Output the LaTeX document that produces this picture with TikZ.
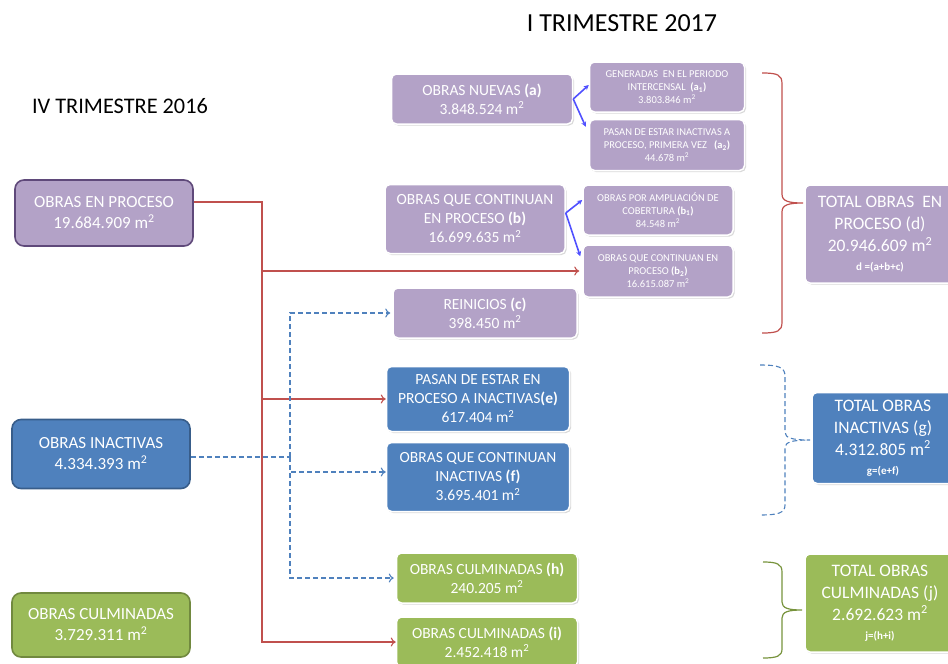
\documentclass[tikz,border=0pt]{standalone}
\usepackage{fontspec}
\setmainfont{Carlito}
\usetikzlibrary{arrows.meta,shadows}

\definecolor{lila}{HTML}{B3A2C7}
\definecolor{lilaborde}{HTML}{5F497A}
\definecolor{azul}{HTML}{4F81BD}
\definecolor{azulborde}{HTML}{385D8A}
\definecolor{verde}{HTML}{9BBB59}
\definecolor{verdeborde}{HTML}{71893F}
\definecolor{rojo}{HTML}{C0504D}
\definecolor{flecha}{HTML}{5050FF}
\definecolor{llave}{HTML}{77933C}
\newcommand{\formulatext}{\fontsize{11}{13}\selectfont\bfseries}

\begin{document}
\begin{tikzpicture}[x=1pt,y=-1pt,
  every node/.style={text=white,align=center,inner sep=1pt},
  viejo/.style={rounded corners=9pt,line width=1.6pt,minimum width=178pt,font=\fontsize{17}{21}\selectfont},
  nuevo/.style={rounded corners=5pt,draw=white,line width=1.5pt,
    drop shadow={opacity=0.3,shadow xshift=1.5pt,shadow yshift=-1.5pt}},
  grande/.style={nuevo,font=\fontsize{15.5}{19}\selectfont},
  chica/.style={nuevo,font=\fontsize{10.5}{13}\selectfont},
  total/.style={nuevo,minimum width=150pt,minimum height=98pt,font=\fontsize{17.5}{22}\selectfont},
  linearoja/.style={rojo,line width=1.1pt},
  lineaazul/.style={azul,line width=1.1pt,dash pattern=on 5pt off 3pt},
  flechaazul/.style={flecha,line width=1.6pt,-{Stealth[length=5pt,width=5pt]}},
  punta/.style={-{To[length=5pt,width=9pt]}}]
\useasboundingbox (0,0) rectangle (948,664);

% titulos
\node[text=black,font=\fontsize{26}{30}\selectfont] (tit17) at (622,23) {I TRIMESTRE 2017};
\node[text=black,font=\fontsize{22.3}{26}\selectfont] (tit16) at (120,106) {IV TRIMESTRE 2016};

% trimestre anterior
\node[viejo,fill=lila,draw=lilaborde,minimum height=66pt] (proceso16) at (104,213)
  {OBRAS EN PROCESO\\19.684.909 m\textsuperscript{2}};
\node[viejo,fill=azul,draw=azulborde,minimum height=69pt] (inact16) at (101,454)
  {OBRAS INACTIVAS\\4.334.393 m\textsuperscript{2}};
\node[viejo,fill=verde,draw=verdeborde,minimum height=64pt] (culm16) at (101,625)
  {OBRAS CULMINADAS\\3.729.311 m\textsuperscript{2}};

% en proceso
\node[grande,fill=lila,minimum width=181pt,minimum height=50pt] (nuevas) at (482,99)
  {OBRAS NUEVAS \textbf{(a)}\\3.848.524 m\textsuperscript{2}};
\node[chica,fill=lila,minimum width=155pt,minimum height=50pt] (a1) at (667,87)
  {GENERADAS\ \ EN EL PERIODO\\INTERCENSAL\ \ \textbf{(a\textsubscript{1})}\\3.803.846 m\textsuperscript{2}};
\node[chica,fill=lila,minimum width=155pt,minimum height=51pt] (a2) at (667,145)
  {PASAN DE ESTAR INACTIVAS A\\PROCESO, PRIMERA VEZ\ \ \ \textbf{(a\textsubscript{2})}\\44.678 m\textsuperscript{2}};
\node[grande,fill=lila,minimum width=180pt,minimum height=69pt] (contin) at (475,219)
  {OBRAS QUE CONTINUAN\\EN PROCESO \textbf{(b)}\\16.699.635 m\textsuperscript{2}};
\node[chica,fill=lila,minimum width=150pt,minimum height=50pt] (b1) at (658,210)
  {OBRAS POR AMPLIACIÓN DE\\COBERTURA \textbf{(b\textsubscript{1})}\\84.548 m\textsuperscript{2}};
\node[chica,fill=lila,minimum width=150pt,minimum height=52pt] (b2) at (658,271)
  {OBRAS QUE CONTINUAN EN\\PROCESO \textbf{(b\textsubscript{2})}\\16.615.087 m\textsuperscript{2}};
\node[grande,fill=lila,minimum width=184pt,minimum height=50pt] (reinic) at (485,313)
  {REINICIOS \textbf{(c)}\\398.450 m\textsuperscript{2}};

% inactivas
\node[grande,fill=azul,minimum width=183pt,minimum height=65pt] (pasan) at (478,399)
  {PASAN DE ESTAR EN\\PROCESO A INACTIVAS\textbf{(e)}\\617.404 m\textsuperscript{2}};
\node[grande,fill=azul,minimum width=183pt,minimum height=69pt] (sigin) at (478,477)
  {OBRAS QUE CONTINUAN\\INACTIVAS \textbf{(f)}\\3.695.401 m\textsuperscript{2}};

% culminadas
\node[grande,fill=verde,minimum width=181pt,minimum height=50pt] (culmh) at (487,578)
  {OBRAS CULMINADAS \textbf{(h)}\\240.205 m\textsuperscript{2}};
\node[grande,fill=verde,minimum width=181pt,minimum height=50pt] (culmi) at (487,642)
  {OBRAS CULMINADAS \textbf{(i)}\\2.452.418 m\textsuperscript{2}};

% totales
\node[total,fill=lila] (totd) at (880,234)
  {TOTAL OBRAS\ \ EN\\PROCESO (d)\\20.946.609 m\textsuperscript{2}\\[-3pt]{\formulatext d =(a+b+c)}};
\node[total,fill=azul,minimum width=142pt,minimum height=91pt] (totg) at (883,438)
  {TOTAL OBRAS\\INACTIVAS (g)\\4.312.805 m\textsuperscript{2}\\[-3pt]{\formulatext g=(e+f)}};
\node[total,fill=verde] (totj) at (880,603)
  {TOTAL OBRAS\\CULMINADAS (j)\\2.692.623 m\textsuperscript{2}\\[-3pt]{\formulatext j=(h+i)}};

% conectores rojos
\coordinate (rjoin) at (262,202);
\draw[linearoja,punta] (proceso16.east |- rjoin) -- (rjoin) |- (culmi.west);
\draw[linearoja,punta] (rjoin |- b2.west) -- ([xshift=-3pt]b2.west);
\draw[linearoja,punta] (rjoin |- pasan.west) -- (pasan.west);

% conectores azules
\coordinate (bjoin) at (290,457);
\draw[lineaazul] (inact16.east |- bjoin) -- (bjoin);
\draw[lineaazul,punta] (bjoin) |- ([xshift=-2pt]reinic.west);
\draw[lineaazul,punta] (bjoin) |- ([yshift=5pt]sigin.west);
\draw[lineaazul,punta] (bjoin) |- ([xshift=-2pt]culmh.west);

% flechas de desglose
\draw[flechaazul] (nuevas.east) -- ([yshift=2pt]a1.west);
\draw[flechaazul] (nuevas.east) -- ([xshift=-3pt,yshift=-8pt]a2.north west);
\draw[flechaazul] ([yshift=6pt]contin.east) -- ([yshift=10pt]b1.west);
\draw[flechaazul] ([yshift=6pt]contin.east) -- ([xshift=-2pt,yshift=-12pt]b2.north west);

% llaves
\draw[rojo,line width=1.2pt] (762,73) .. controls (778,73) and (782,75) .. (782,84) -- (782,194)
  .. controls (782,201) and (788,203) .. (803,203) .. controls (788,203) and (782,205) .. (782,212)
  -- (782,322) .. controls (782,331) and (778,333) .. (762,333);
\draw[lineaazul] (760,365) .. controls (778,365) and (785,367) .. (785,376) -- (785,432)
  .. controls (785,438) and (792,440) .. (810,440) .. controls (792,440) and (785,442) .. (785,448)
  -- (785,505) .. controls (785,513) and (778,515) .. (760,515);
\draw[llave,line width=1.2pt] (763,562) .. controls (777,562) and (782,564) .. (782,572) -- (782,602)
  .. controls (782,608) and (788,610) .. (802,610) .. controls (788,610) and (782,612) .. (782,618)
  -- (782,649) .. controls (782,656) and (777,658) .. (763,658);
\end{tikzpicture}
\end{document}
